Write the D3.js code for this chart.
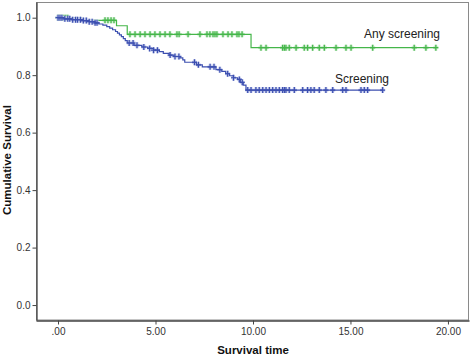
<!DOCTYPE html>
<html>
<head>
<meta charset="utf-8">
<script src="https://cdn.jsdelivr.net/npm/d3@7"></script>
<style>
  body { margin: 0; background: #fff; }
  svg { display: block; font-family: "Liberation Sans", Arial, sans-serif; }
</style>
</head>
<body>
<svg id="km-svg" width="472" height="355"></svg>
<script>
// Kaplan-Meier steps (time, survival after the step)
const greenTimes = [1.2, 3.0, 3.55, 9.9];
const greenSurv = [0.991, 0.972, 0.942, 0.8955];
const greenCensor = [0, 0.1, 0.2, 0.3, 0.4, 0.5, 2.41, 2.56, 2.72, 2.87,
  3.69, 3.95, 4.21, 4.46, 4.72, 4.97, 5.23, 5.49, 5.74, 6.10, 6.21, 6.67, 7.28,
  7.64, 7.79, 7.95, 8.05, 8.15, 8.46, 8.72, 8.92, 9.18, 9.28, 9.44,
  10.41, 10.67, 11.52, 11.61, 11.69, 11.86, 12.21, 12.63, 12.80, 13.06, 13.40,
  13.66, 14.26, 14.77, 15.03, 16.14, 18.27, 18.87, 19.38];

const blueTimes = [0.3, 0.7, 1.2, 1.6, 1.9, 2.1, 2.3, 2.5, 2.65, 2.8, 2.95, 3.05,
  3.15, 3.25, 3.35, 3.45, 3.55, 3.9, 4.3, 4.6, 4.9, 5.2, 5.4, 5.7, 5.95, 6.25,
  6.4, 6.5, 7.1, 7.4, 8.1, 8.4, 8.6, 8.8, 9.0, 9.2, 9.35, 9.5, 9.64];
const blueSurv = [0.996, 0.993, 0.990, 0.986, 0.982, 0.978, 0.974, 0.969, 0.964,
  0.958, 0.952, 0.946, 0.940, 0.934, 0.927, 0.920, 0.912, 0.904, 0.898, 0.893,
  0.887, 0.882, 0.876, 0.870, 0.865, 0.860, 0.853, 0.845, 0.836, 0.829, 0.819,
  0.813, 0.805, 0.798, 0.791, 0.785, 0.775, 0.765, 0.748];
const blueCensor = [0, 0.1, 0.2, 0.35, 0.5, 0.6, 0.75, 0.9, 1.0, 1.15, 1.3, 1.45,
  1.6, 1.75, 1.9, 2.0, 3.65, 3.85, 4.05, 4.4, 4.7, 4.9, 5.1, 5.75, 6.0, 6.2,
  7.0, 7.2, 7.8, 8.0, 8.3, 8.7, 9.0, 9.3, 9.45,
  9.73, 9.90, 10.15, 10.32, 10.50, 10.67, 10.84, 11.01, 11.18, 11.35, 11.52,
  11.61, 11.69, 11.86, 12.12, 12.55, 12.80, 12.97, 13.14, 13.40, 13.74, 14.09,
  14.60, 14.77, 15.54, 15.71, 15.88, 16.65];

const xTicks = [0, 5, 10, 15, 20];
const xTickLabels = [".00", "5.00", "10.00", "15.00", "20.00"];
const yTicks = [0, 0.2, 0.4, 0.6, 0.8, 1.0];

const svg = d3.select("#km-svg");

const x = d3.scaleLinear().domain([-1.13, 21.08]).range([36, 469]);
const y = d3.scaleLinear().domain([-0.052, 1.0546]).range([320, 2]);

// frame
svg.append("rect")
  .attr("x", 36.5).attr("y", 2.5)
  .attr("width", 432).attr("height", 317.5)
  .attr("fill", "none")
  .attr("stroke", "#8a8a8a")
  .attr("stroke-width", 1);

// axes
const yAxis = svg.append("g")
  .attr("transform", "translate(36.5,0)")
  .call(d3.axisLeft(y).tickValues(yTicks).tickFormat(d3.format(".1f"))
    .tickSize(4).tickPadding(2).tickSizeOuter(0));
const xAxis = svg.append("g")
  .attr("transform", "translate(0,320.5)")
  .call(d3.axisBottom(x).tickValues(xTicks).tickFormat((d, i) => xTickLabels[i])
    .tickSize(4).tickPadding(3).tickSizeOuter(0));

[xAxis, yAxis].forEach(a => {
  a.select(".domain").attr("stroke", "#444").attr("stroke-width", 1.3);
  a.selectAll(".tick line").attr("stroke", "#444");
  a.selectAll(".tick text")
    .attr("fill", "#333")
    .style("font-size", "10px")
    .style("font-family", "'Liberation Sans', Arial, sans-serif");
});

// step curve helpers
function stepPoints(times, surv, end) {
  const pts = [[0, 1]];
  times.forEach((t, i) => pts.push([t, surv[i]]));
  pts.push([end, surv[surv.length - 1]]);
  return pts;
}
function survAt(times, surv, t) {
  let s = 1;
  times.forEach((tt, i) => { if (tt <= t) s = surv[i]; });
  return s;
}

const line = d3.line()
  .x(d => x(d[0]))
  .y(d => y(d[1]))
  .curve(d3.curveStepAfter);

const groups = [
  { times: greenTimes, surv: greenSurv, censor: greenCensor, color: "#45b64a", halo: "#c6e9c8" },
  { times: blueTimes, surv: blueSurv, censor: blueCensor, color: "#3c4fb0", halo: "#c2c9ec" }
];

groups.forEach(g => {
  const end = d3.max(g.censor);
  const layer = svg.append("g");

  // soft halo under the censor marks
  layer.append("g").selectAll("path")
    .data(g.censor)
    .enter()
    .append("path")
    .attr("transform", d => `translate(${x(d)},${y(survAt(g.times, g.surv, d))})`)
    .attr("d", "M-2.5,0H2.5M0,-3V3")
    .attr("fill", "none")
    .attr("stroke", g.halo)
    .attr("stroke-width", 2.8);

  layer.append("path")
    .datum(stepPoints(g.times, g.surv, end))
    .attr("d", line)
    .attr("fill", "none")
    .attr("stroke", g.color)
    .attr("stroke-width", 1.2);

  layer.append("g").selectAll("path")
    .data(g.censor)
    .enter()
    .append("path")
    .attr("transform", d => `translate(${x(d)},${y(survAt(g.times, g.surv, d))})`)
    .attr("d", "M-2.5,0H2.5M0,-3V3")
    .attr("fill", "none")
    .attr("stroke", g.color)
    .attr("stroke-width", 1.2);
});

// series labels
svg.append("text")
  .attr("x", 364).attr("y", 38)
  .style("font-size", "12px")
  .attr("fill", "#222")
  .text("Any screening");
svg.append("text")
  .attr("x", 335).attr("y", 83)
  .style("font-size", "12px")
  .attr("fill", "#222")
  .text("Screening");

// axis titles
svg.append("text")
  .attr("x", 253).attr("y", 354)
  .attr("text-anchor", "middle")
  .style("font-size", "11.5px")
  .style("font-weight", "bold")
  .attr("fill", "#111")
  .text("Survival time");
svg.append("text")
  .attr("transform", "translate(11,160) rotate(-90)")
  .attr("text-anchor", "middle")
  .style("font-size", "11.5px")
  .style("font-weight", "bold")
  .attr("fill", "#111")
  .text("Cumulative Survival");
</script>
</body>
</html>
